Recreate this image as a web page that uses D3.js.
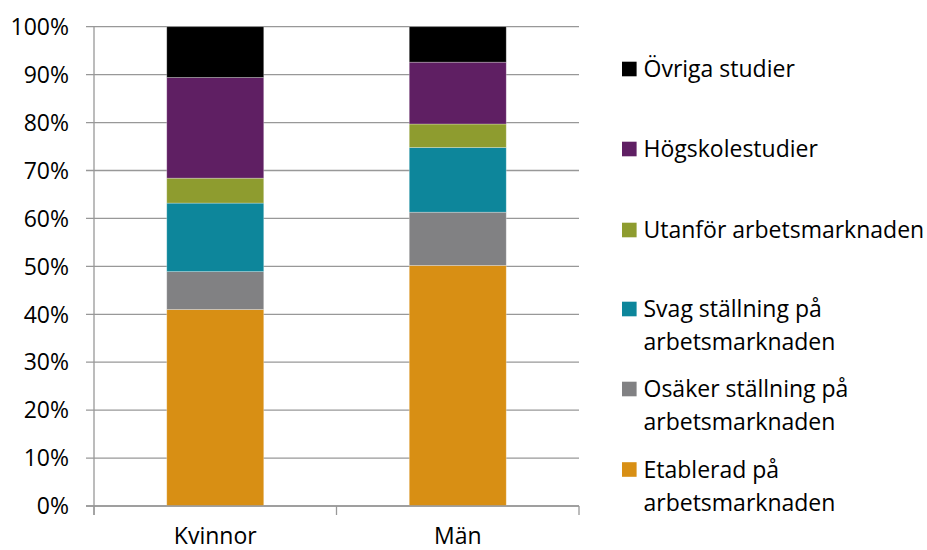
<!DOCTYPE html>
<html>
<head>
<meta charset="utf-8">
<script src="https://cdn.jsdelivr.net/npm/d3@7"></script>
<style>
  body { margin: 0; background: #fff; }
  text { font-family: "Open Sans", Lato, sans-serif; fill: #000; }
</style>
</head>
<body>
<div id="container"></div>
<script>
// Categories and series (bottom to top)
let categories = ["Kvinnor", "Män"];
let seriesNames = [
  "Etablerad på arbetsmarknaden",
  "Osäker ställning på arbetsmarknaden",
  "Svag ställning på arbetsmarknaden",
  "Utanför arbetsmarknaden",
  "Högskolestudier",
  "Övriga studier"
];
let legendLines = [
  ["Etablerad på", "arbetsmarknaden"],
  ["Osäker ställning på", "arbetsmarknaden"],
  ["Svag ställning på", "arbetsmarknaden"],
  ["Utanför arbetsmarknaden"],
  ["Högskolestudier"],
  ["Övriga studier"]
];
let kvinnorValues = [41.0, 7.9, 14.3, 5.2, 21.0, 10.6];
let manValues = [50.2, 11.1, 13.5, 4.9, 12.9, 7.4];
let seriesColors = ["#d88f14", "#818183", "#0d869b", "#8e9c2f", "#5f1f63", "#000000"];
let yTicks = [0, 10, 20, 30, 40, 50, 60, 70, 80, 90, 100];

// Width and height
let chart_width = 927;
let chart_height = 550;
let margin = {left: 94, right: 348, top: 26.7, bottom: 44};
let font_size = "23px";

let svg = d3.select("#container")
  .append("svg")
  .attr("width", chart_width)
  .attr("height", chart_height);

let plot_w = chart_width - margin.left - margin.right;
let plot_h = chart_height - margin.top - margin.bottom;

let x = d3.scaleBand()
  .domain(categories)
  .range([margin.left, margin.left + plot_w])
  .paddingInner(0.6)
  .paddingOuter(0.3);

let y = d3.scaleLinear()
  .domain([0, 100])
  .range([margin.top + plot_h, margin.top]);

// Gridlines
svg.append("g")
  .selectAll("line")
  .data(yTicks)
  .enter()
  .append("line")
  .attr("x1", margin.left - 8)
  .attr("x2", margin.left + plot_w)
  .attr("y1", d => y(d))
  .attr("y2", d => y(d))
  .attr("stroke", "#989898")
  .attr("stroke-width", 1.3);

// Y labels
svg.append("g")
  .selectAll("text")
  .data(yTicks)
  .enter()
  .append("text")
  .attr("x", 69)
  .attr("y", d => y(d))
  .attr("dy", "0.36em")
  .attr("text-anchor", "end")
  .style("font-size", font_size)
  .text(d => d + "%");

// Stack the data
let rows = categories.map((c, i) => {
  let vals = i == 0 ? kvinnorValues : manValues;
  let row = {category: c};
  seriesNames.forEach((s, j) => row[s] = vals[j]);
  return row;
});
let stacked = d3.stack().keys(seriesNames)(rows);

svg.append("g")
  .selectAll("g")
  .data(stacked)
  .enter()
  .append("g")
  .attr("fill", (d, i) => seriesColors[i])
  .selectAll("rect")
  .data(d => d)
  .enter()
  .append("rect")
  .attr("x", d => x(d.data.category))
  .attr("width", x.bandwidth())
  .attr("y", d => y(d[1]))
  .attr("height", d => y(d[0]) - y(d[1]))
  .attr("stroke", "rgba(255,255,255,0.35)")
  .attr("stroke-width", 0.8);

// Axes lines
svg.append("line")
  .attr("x1", margin.left).attr("x2", margin.left)
  .attr("y1", y(100)).attr("y2", y(0) + 9)
  .attr("stroke", "#989898").attr("stroke-width", 1.3);
svg.append("line")
  .attr("x1", margin.left - 8).attr("x2", margin.left + plot_w)
  .attr("y1", y(0)).attr("y2", y(0))
  .attr("stroke", "#989898").attr("stroke-width", 1.3);

// Category tick marks
svg.append("g")
  .selectAll("line")
  .data(d3.range(categories.length + 1))
  .enter()
  .append("line")
  .attr("x1", d => margin.left + d * x.step())
  .attr("x2", d => margin.left + d * x.step())
  .attr("y1", y(0))
  .attr("y2", y(0) + 9)
  .attr("stroke", "#989898").attr("stroke-width", 1.3);

// Category labels
svg.append("g")
  .selectAll("text")
  .data(categories)
  .enter()
  .append("text")
  .attr("x", d => x(d) + x.bandwidth() / 2)
  .attr("y", 544)
  .attr("text-anchor", "middle")
  .style("font-size", font_size)
  .text(d => d);

// Legend (top to bottom is reversed series order)
let legendY = [69, 149, 230, 309, 389, 469.5];
let legend = svg.append("g")
  .selectAll("g")
  .data(d3.range(seriesNames.length).reverse())
  .enter()
  .append("g")
  .attr("transform", (d, i) => "translate(622," + legendY[i] + ")");

legend.append("rect")
  .attr("x", 0)
  .attr("y", -7.3)
  .attr("width", 14.6)
  .attr("height", 14.6)
  .attr("fill", d => seriesColors[d]);

legend.append("text")
  .attr("x", 21.5)
  .attr("y", 0)
  .style("font-size", font_size)
  .selectAll("tspan")
  .data(d => legendLines[d])
  .enter()
  .append("tspan")
  .attr("x", 21.5)
  .attr("dy", (d, i) => i == 0 ? "0.36em" : "33px")
  .text(d => d);
</script>
</body>
</html>
